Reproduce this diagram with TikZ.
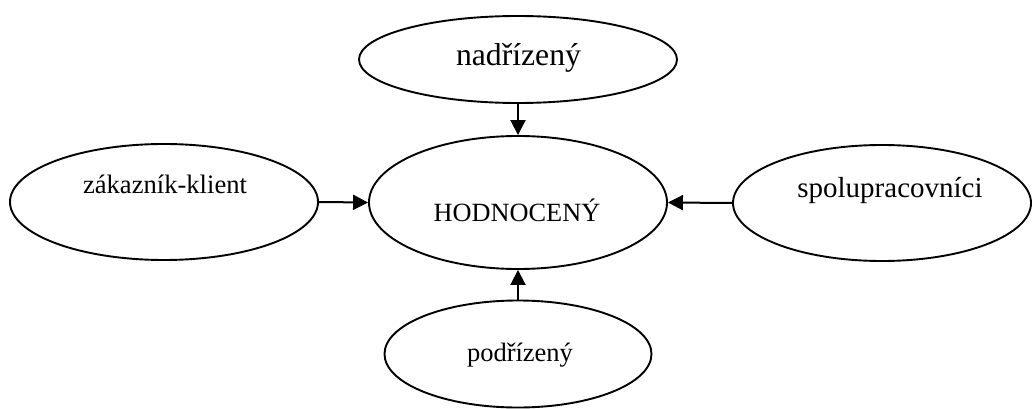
\documentclass[tikz,border=0pt]{standalone}
\usepackage{fontspec}
\setmainfont{Liberation Serif}
\usetikzlibrary{shapes.geometric, arrows.meta}

\begin{document}
\begin{tikzpicture}[
  x=1pt, y=-1pt,
  role/.style={draw=black, ellipse, line width=1.9pt, inner sep=0pt},
  rtxt/.style={anchor=base, inner sep=0pt},
  rarr/.style={-{Triangle[length=15pt,width=15pt]}, line width=2pt, draw=black}
]
\useasboundingbox (0,0) rectangle (1033,409);
% ellipses
\node[role, minimum width=318pt, minimum height=87pt] (nad) at (518,59.5) {};
\node[role, minimum width=298pt, minimum height=133pt] (hod) at (518,202.5) {};
\node[role, minimum width=308pt, minimum height=116pt] (zak) at (164,202) {};
\node[role, minimum width=298pt, minimum height=116pt] (spol) at (882,203) {};
\node[role, minimum width=267pt, minimum height=107pt] (pod) at (518,354) {};
% texts
\node[rtxt, font=\fontsize{31.7}{36}\selectfont] (nad-t) at (518.5,66) {nadřízený};
\node[rtxt, font=\fontsize{26.3}{30}\selectfont] (hod-t) at (517,221) {HODNOCENÝ};
\node[rtxt, font=\fontsize{26.6}{30}\selectfont] (zak-t) at (165,193) {zákazník-klient};
\node[rtxt, font=\fontsize{29}{33}\selectfont] (spol-t) at (890,197) {spolupracovníci};
\node[rtxt, font=\fontsize{26.5}{30}\selectfont] (pod-t) at (520,361) {podřízený};
% arrows
\foreach \a/\b in {nad.south/hod.north, zak.east/hod.west, spol.west/hod.east, pod.north/hod.south}{
  \draw[rarr] (\a) -- (\b);}
\end{tikzpicture}
\end{document}
